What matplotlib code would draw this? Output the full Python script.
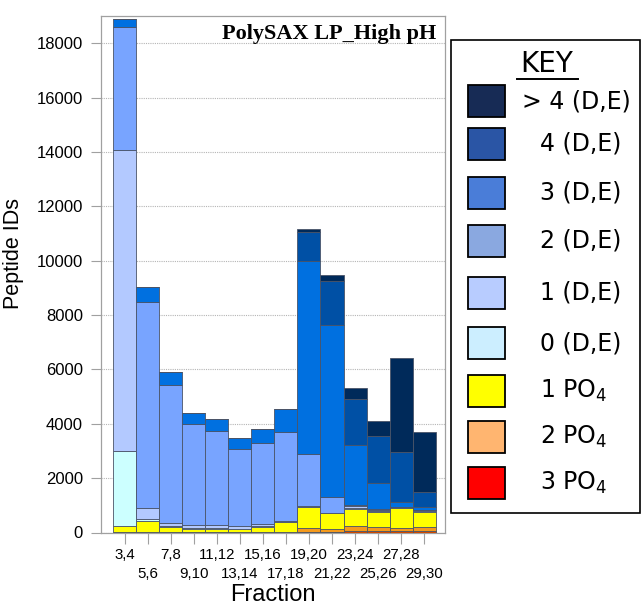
import matplotlib
matplotlib.use("Agg")
import matplotlib.pyplot as plt
import numpy as np
from matplotlib.patches import Rectangle
from matplotlib.lines import Line2D

# ── Data (segment heights, bottom -> top) ─────────────────────────────────────
fractions = ["3,4", "5,6", "7,8", "9,10", "11,12", "13,14", "15,16",
             "17,18", "19,20", "21,22", "23,24", "25,26", "27,28", "29,30"]
po4_3 = [0, 0, 0, 0, 0, 0, 0, 0, 30, 20, 50, 40, 40, 40]
po4_2 = [20, 20, 20, 15, 15, 10, 15, 20, 125, 110, 190, 150, 115, 150]
po4_1 = [230, 400, 195, 125, 125, 108, 200, 350, 795, 575, 610, 575, 745, 575]
de_0 = [2750, 65, 20, 20, 20, 15, 15, 15, 0, 0, 50, 20, 10, 20]
de_1 = [11070, 405, 105, 105, 105, 95, 70, 50, 20, 20, 75, 40, 20, 40]
de_2 = [4510, 7600, 5085, 3735, 3480, 2842, 2990, 3260, 1920, 595, 35, 25, 20, 20]
de_3 = [295, 530, 465, 395, 430, 395, 530, 845, 7095, 6320, 2195, 960, 170, 85]
de_4 = [0, 0, 20, 0, 0, 0, 0, 0, 1055, 1610, 1705, 1750, 1850, 560]
de_gt4 = [0, 0, 0, 0, 0, 0, 0, 0, 110, 220, 390, 550, 3450, 2195]

layers = [po4_3, po4_2, po4_1, de_0, de_1, de_2, de_3, de_4, de_gt4]
bar_colors = ["#d04800", "#f59a1c", "#ffff00", "#ccffff", "#b3c9ff",
              "#78a4ff", "#0070e0", "#0050a5", "#002a5a"]

key_labels = ["> 4 (D,E)", "4 (D,E)", "3 (D,E)", "2 (D,E)", "1 (D,E)",
              "0 (D,E)", "1 PO$_4$", "2 PO$_4$", "3 PO$_4$"]
key_colors = ["#172b55", "#2a55a5", "#4a7dd8", "#8aa8e0", "#b8ccff",
              "#cceeff", "#ffff00", "#ffb570", "#ff0000"]

SANS = "Liberation Sans"

fig = plt.figure(figsize=(6.42, 6.08), dpi=100)
ax = fig.add_axes([101 / 642, 1 - 532.5 / 608, 344 / 642, 516.5 / 608])

# ── Stacked bars ──────────────────────────────────────────────────────────────
x = np.arange(len(fractions))
bottom = np.zeros(len(fractions))
for vals, col in zip(layers, bar_colors):
    vals = np.array(vals, dtype=float)
    ax.bar(x, vals, width=1.0, bottom=bottom, color=col,
           edgecolor="#4a5468", linewidth=0.6, zorder=3)
    bottom += vals

ax.set_xlim(-1.02, 13.9)
ax.set_ylim(0, 19000)
ax.set_yticks(np.arange(0, 18001, 2000))
ax.yaxis.grid(True, color="#b5b5b5", linestyle=(0, (1, 1)), linewidth=0.8, zorder=0)
for s in ax.spines.values():
    s.set_color("#a0a0a0")
    s.set_linewidth(0.9)

# two rows of fraction labels: odd ones on major ticks, even ones on minor ticks
ax.set_xticks(x[0::2])
ax.set_xticklabels(fractions[0::2], fontsize=10.8, family=SANS)
ax.set_xticks(x[1::2], minor=True)
ax.set_xticklabels(fractions[1::2], minor=True, fontsize=10.8, family=SANS)
ax.tick_params(axis="x", which="major", length=8, color="#a0a0a0", pad=3)
ax.tick_params(axis="x", which="minor", length=8, width=0.8, color="#a0a0a0", pad=17)
ax.tick_params(axis="y", length=7, color="#a0a0a0", labelsize=12, pad=6)
for t in ax.get_yticklabels():
    t.set_family(SANS)

ax.set_xlabel("Fraction", fontsize=17, family=SANS, labelpad=2)
ax.set_ylabel("Peptide IDs", fontsize=15.5, family=SANS)
ax.yaxis.set_label_coords(-0.225, 0.54)

ax.text(0.975, 0.985, "PolySAX LP_High pH", transform=ax.transAxes,
        ha="right", va="top", fontsize=16, fontweight="bold",
        family="Liberation Serif", zorder=5)

# ── KEY box ───────────────────────────────────────────────────────────────────
fw, fh = 642, 608


def fx(px):
    return px / fw


def fy(py):
    return 1 - py / fh


fig.patches.append(Rectangle((fx(451), fy(513)), fx(640) - fx(451), fy(40) - fy(513),
                             transform=fig.transFigure, facecolor="white",
                             edgecolor="black", linewidth=1.2))
fig.text(fx(547), fy(64), "KEY", ha="center", va="center", fontsize=20,
         family="DejaVu Sans")
fig.lines.append(Line2D([fx(517), fx(578)], [fy(79), fy(79)],
                        transform=fig.transFigure, color="black", linewidth=1.4))

centers = [101, 144, 193, 241, 293, 343, 391, 437, 483]
for cy, lab, col in zip(centers, key_labels, key_colors):
    fig.patches.append(Rectangle((fx(468), fy(cy + 16)), fx(505) - fx(468), fy(cy - 16) - fy(cy + 16),
                                 transform=fig.transFigure, facecolor=col,
                                 edgecolor="black", linewidth=1.3))
    tx = 522 if lab.startswith(">") else 540
    fig.text(fx(tx), fy(cy), lab, ha="left", va="center", fontsize=17,
             family="DejaVu Sans")

fig.savefig("out.png", dpi=100, facecolor="white")
